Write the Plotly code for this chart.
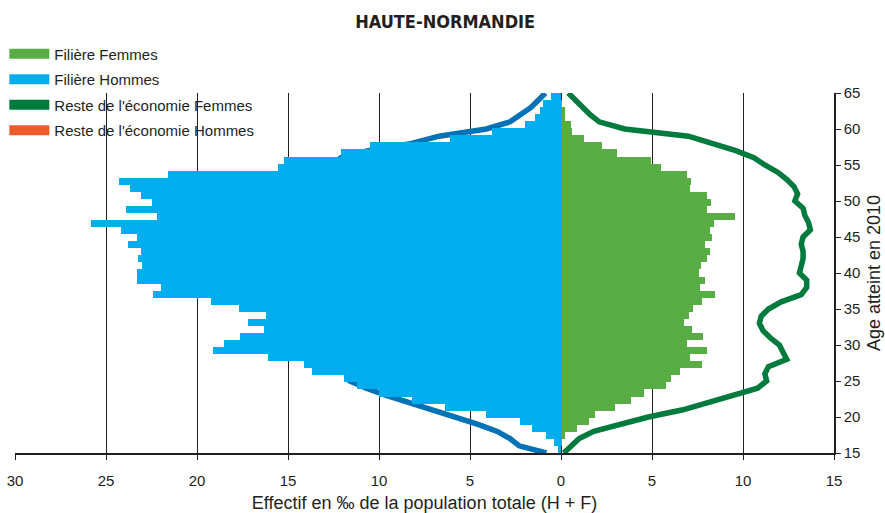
import plotly.graph_objects as go

ages = list(range(15, 66))

# Filière (bars), effectif en pour mille
filiere_femmes = [0.0, 0.05, 0.2, 0.86, 1.52, 1.85, 2.95, 3.83, 4.54, 5.75,
                  6.03, 6.52, 7.77, 7.07, 8.04, 6.9, 7.82, 7.22, 6.74, 7.04,
                  7.27, 7.77, 8.45, 7.66, 7.93, 7.56, 7.7, 8.04, 8.2, 7.93,
                  8.3, 8.2, 8.42, 9.58, 8.04, 8.26, 8.04, 7.1, 7.16, 6.9,
                  5.5, 4.96, 3.1, 2.27, 1.25, 0.62, 0.53, 0.2, 0.2, 0.05, 0.0]
filiere_hommes = [-0.16, -0.4, -0.8, -1.6, -2.27, -4.1, -6.4, -8.2, -10.0, -11.2,
                  -11.9, -13.7, -14.1, -16.1, -19.1, -18.5, -17.65, -16.3, -17.2, -16.2,
                  -17.7, -19.25, -22.4, -22.0, -23.3, -23.3, -23.0, -23.25, -23.1, -23.8,
                  -23.3, -24.2, -25.8, -22.2, -23.9, -22.5, -23.1, -23.7, -24.3, -21.6,
                  -15.55, -15.2, -12.07, -10.5, -6.1, -3.8, -2.0, -1.45, -1.17, -0.99, -0.53]

# Reste de l'économie (lines)
reste_femmes = [0.15, 0.6, 1.0, 1.8, 3.2, 4.8, 6.7, 8.1, 9.6, 10.8,
                11.3, 11.2, 11.4, 12.4, 12.2, 12.0, 11.5, 11.1, 10.9, 11.0,
                11.4, 12.1, 13.2, 13.5, 13.5, 13.1, 13.2, 13.3, 13.3, 13.2,
                13.3, 13.7, 13.6, 13.4, 13.3, 12.85, 13.0, 12.8, 12.4, 11.9,
                11.2, 10.6, 9.6, 8.4, 7.0, 3.5, 2.1, 1.6, 1.2, 0.9, 0.4]
reste_hommes = [-0.8, -2.3, -2.8, -3.5, -4.6, -5.9, -7.2, -8.5, -9.6, -10.7,
                -11.6, -11.7, -11.7, -12.5, -12.8, -12.9, -12.6, -11.9, -11.8, -11.9,
                -12.5, -13.2, -14.1, -14.3, -14.4, -14.1, -13.8, -13.7, -13.6, -13.8,
                -13.8, -13.8, -14.1, -13.6, -14.0, -14.0, -14.1, -13.6, -13.4, -13.2,
                -12.6, -12.1, -10.6, -8.2, -6.7, -4.1, -2.8, -2.2, -1.65, -1.25, -0.86]

x_ticks = [-30, -25, -20, -15, -10, -5, 0, 5, 10, 15]
x_labels = ["30", "25", "20", "15", "10", "5", "0", "5", "10", "15"]

legend_names = ["Filière Femmes", "Filière Hommes",
                "Reste de l'économie Femmes", "Reste de l'économie Hommes"]
legend_colors = ["#58AC44", "#00AEEF", "#007A3D", "#EE5A2A"]

font = "Liberation Sans, Arial, sans-serif"
ink = "#231F20"

fig = go.Figure()

fig.add_trace(go.Bar(x=filiere_femmes, y=ages, orientation="h", name="Filière Femmes",
                     marker=dict(color="#58AC44", line=dict(width=0)), yaxis="y2", showlegend=False))
fig.add_trace(go.Bar(x=filiere_hommes, y=ages, orientation="h", name="Filière Hommes",
                     marker=dict(color="#00AEEF", line=dict(width=0)), yaxis="y2", showlegend=False))
fig.add_trace(go.Scatter(x=reste_femmes, y=ages, mode="lines", name="Reste de l'économie Femmes",
                         line=dict(color="#007A3D", width=5.5), showlegend=False))
fig.add_trace(go.Scatter(x=reste_hommes, y=ages, mode="lines", name="Reste de l'économie Hommes",
                         line=dict(color="#0072B5", width=5.5), showlegend=False))

# legend swatches as drawn in the original (wide rectangles)
for i, (name, color) in enumerate(zip(legend_names, legend_colors)):
    fig.add_trace(go.Scatter(x=[None], y=[None], mode="lines", name=name, legendgroup=f"g{i}",
                             line=dict(color=color, width=10)))

fig.update_layout(
    width=885, height=513,
    margin=dict(l=15, r=51, t=93, b=60, autoexpand=False),
    paper_bgcolor="white", plot_bgcolor="white",
    font=dict(family=font, size=15, color=ink),
    title=dict(text="<b>HAUTE-NORMANDIE</b>", x=0.503, xanchor="center", y=0.957, yanchor="middle",
               font=dict(family="DejaVu Sans Condensed, Liberation Sans Narrow, sans-serif",
                         size=18, color=ink)),
    barmode="overlay", bargap=0,
    showlegend=True,
    legend=dict(x=-0.013, y=1.154, xanchor="left", yanchor="top", bgcolor="rgba(0,0,0,0)",
                font=dict(size=15), traceorder="grouped", itemwidth=40, tracegroupgap=3),
    xaxis=dict(range=[-30, 15], tickvals=x_ticks, ticktext=x_labels, automargin=False,
               showgrid=True, gridcolor=ink, gridwidth=1, zeroline=False,
               showline=True, linecolor=ink, linewidth=1.5,
               ticks="outside", ticklen=5, tickcolor=ink, ticklabelstandoff=8,
               title=dict(text="Effectif en ‰ de la population totale (H + F)", standoff=14)),
    yaxis=dict(range=[15, 65], side="right", tickvals=list(range(15, 70, 5)), automargin=False,
               showgrid=False, zeroline=False, showline=True, linecolor=ink, linewidth=1.5,
               ticks="outside", ticklen=5, tickcolor=ink,
               title=dict(text="Age atteint en 2010", standoff=8)),
    yaxis2=dict(range=[14.5, 65.5], overlaying="y", visible=False),
)

fig.write_html("out.html", config={"displayModeBar": False},
               post_script="document.body.style.margin='0';")
